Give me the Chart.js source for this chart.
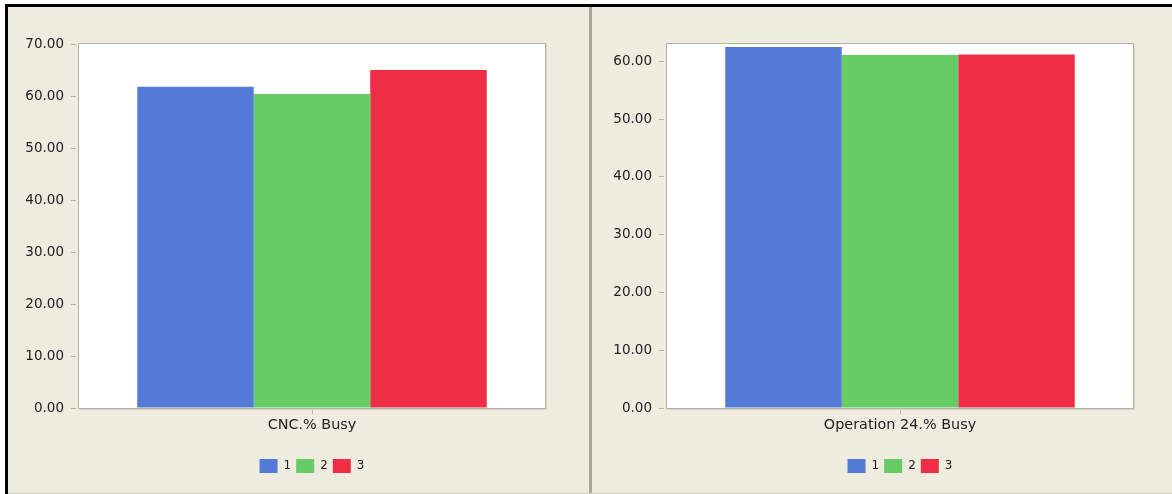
<!DOCTYPE html>
<html>
<head>
<meta charset="utf-8">
<script src="https://cdn.jsdelivr.net/npm/chart.js@4/dist/chart.umd.min.js"></script>
<style>
  html, body { margin: 0; padding: 0; background: #ffffff; }
  body { width: 1172px; height: 494px; position: relative; overflow: hidden; }
  #frame {
    position: absolute; left: 5px; top: 4px; width: 1200px; height: 520px;
    background: #eeebdf; border-left: 3px solid #000; border-top: 3px solid #000;
  }
  #divider { position: absolute; left: 589px; top: 7px; width: 3px; height: 490px; background: #aaa699; }
  #baseline { position: absolute; left: 8px; top: 493px; width: 1164px; height: 1px; background: #d3d0c3; }
  .panel { position: absolute; top: 10px; width: 578px; height: 484px; }
  #left { left: 10px; }
  #right { left: 594px; }
</style>
</head>
<body>
<div id="frame"></div>
<div id="divider"></div>
<div id="baseline"></div>
<div class="panel" id="left"><canvas id="cnc" width="578" height="484"></canvas></div>
<div class="panel" id="right"><canvas id="op" width="578" height="484"></canvas></div>
<script>
// Utilisation by replication
const seriesNames = ['1', '2', '3'];
const seriesColors = ['#527ad6', '#66cc66', '#ee2e44'];

const cncCategories = ['CNC.% Busy'];
const cncBusy = [61.8, 60.4, 65.0];
const cncTicks = [0, 10, 20, 30, 40, 50, 60, 70];
const cncMax = 70;

const opCategories = ['Operation 24.% Busy'];
const opBusy = [62.5, 61.1, 61.2];
const opTicks = [0, 10, 20, 30, 40, 50, 60];
const opMax = 63;

const FONT = "'DejaVu Sans', Verdana, sans-serif";
const AXIS_GREY = '#b6b2a5';

// White plot area with a thin grey frame and a soft shadow on the right and bottom
const plotFrame = {
  id: 'plotFrame',
  beforeDraw(chart) {
    const { ctx, chartArea: a } = chart;
    ctx.save();
    ctx.fillStyle = '#ffffff';
    ctx.fillRect(a.left, a.top, a.right - a.left, a.bottom - a.top);
    ctx.restore();
  },
  afterDatasetsDraw(chart) {
    const { ctx, chartArea: a } = chart;
    ctx.save();
    ctx.lineWidth = 1;
    ctx.strokeStyle = AXIS_GREY;
    ctx.strokeRect(a.left - 0.5, a.top - 0.5, a.right - a.left + 1, a.bottom - a.top + 1);
    ctx.strokeStyle = '#d6d3c6';
    ctx.beginPath();
    ctx.moveTo(a.right + 1.5, a.top);
    ctx.lineTo(a.right + 1.5, a.bottom + 1.5);
    ctx.lineTo(a.left, a.bottom + 1.5);
    ctx.stroke();
    ctx.restore();
  }
};

function buildChart(canvasId, categories, values, tickValues, maxValue, axisWidth, rightPad) {
  const datasets = seriesNames.map((name, i) => ({
    label: name,
    data: [values[i]],
    backgroundColor: seriesColors[i],
    borderWidth: 0,
    categoryPercentage: 0.75,
    barPercentage: 1.0
  }));
  return new Chart(document.getElementById(canvasId), {
    type: 'bar',
    data: { labels: categories, datasets },
    plugins: [plotFrame],
    options: {
      responsive: false,
      animation: false,
      devicePixelRatio: 1,
      layout: { padding: { top: 34, right: rightPad, bottom: 11, left: 0 } },
      plugins: {
        tooltip: { enabled: false },
        legend: {
          position: 'bottom',
          fullSize: false,
          labels: {
            boxWidth: 18,
            boxHeight: 14,
            padding: 5,
            color: '#222222',
            font: { family: FONT, size: 12 }
          }
        }
      },
      scales: {
        x: {
          offset: true,
          border: { display: false },
          grid: { display: true, drawOnChartArea: false, offset: false, tickLength: 6, color: AXIS_GREY },
          ticks: { padding: 3, color: '#222222', font: { family: FONT, size: 14.4 }, maxRotation: 0 },
          afterFit(scale) { scale.height = 46; scale.paddingLeft = 0; scale.paddingRight = 0; }
        },
        y: {
          min: 0,
          max: maxValue,
          border: { display: false },
          grid: { display: true, drawOnChartArea: false, tickLength: 8, tickBorderDash: [5, 20], color: AXIS_GREY },
          ticks: {
            padding: 7,
            includeBounds: false,
            color: '#222222',
            font: { family: FONT, size: 13.5 },
            callback: v => Number(v).toFixed(2)
          },
          afterBuildTicks(scale) { scale.ticks = tickValues.map(v => ({ value: v })); },
          afterFit(scale) { scale.width = axisWidth; scale.paddingTop = 0; scale.paddingBottom = 0; }
        }
      }
    }
  });
}

buildChart('cnc', cncCategories, cncBusy, cncTicks, cncMax, 69, 43);
buildChart('op', opCategories, opBusy, opTicks, opMax, 73, 39);
</script>
</body>
</html>
